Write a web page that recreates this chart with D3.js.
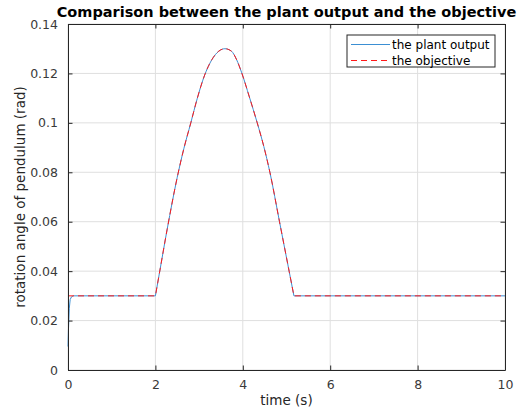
<!DOCTYPE html>
<html>
<head>
<meta charset="utf-8">
<script src="https://cdn.jsdelivr.net/npm/d3@7"></script>
<style>
  body { margin: 0; background: #fff; }
  svg { display: block; font-family: "DejaVu Sans", sans-serif; }
</style>
</head>
<body>
<svg id="chart" width="517" height="417"></svg>
<script>
// objective (red dashed)
const objTime = [0, 2, 2.09, 2.27, 2.5, 2.65, 2.81, 2.96, 3.12, 3.29, 3.45, 3.59, 3.74, 3.86, 3.97, 4.15, 4.33, 4.48, 4.62, 4.84, 5.06, 5.17, 10];
const objValue = [0.03, 0.03, 0.039, 0.057, 0.078, 0.0895, 0.10, 0.110, 0.119, 0.1255, 0.129, 0.130, 0.129, 0.1255, 0.1205, 0.1105, 0.10, 0.0905, 0.08, 0.06, 0.04, 0.03, 0.03];

// plant output (blue solid)
const plantTime = [0, 0.01, 0.03, 0.05, 0.08, 0.12, 2, 2.09, 2.27, 2.5, 2.65, 2.81, 2.96, 3.12, 3.29, 3.45, 3.59, 3.74, 3.86, 3.97, 4.15, 4.33, 4.48, 4.62, 4.84, 5.06, 5.17, 10];
const plantValue = [0.0095, 0.016, 0.025, 0.0285, 0.0296, 0.03, 0.03, 0.039, 0.057, 0.078, 0.0895, 0.10, 0.110, 0.119, 0.1255, 0.129, 0.130, 0.129, 0.1255, 0.1205, 0.1105, 0.10, 0.0905, 0.08, 0.06, 0.04, 0.03, 0.03];

const xTicks = [0, 2, 4, 6, 8, 10];
const yTicks = [0, 0.02, 0.04, 0.06, 0.08, 0.1, 0.12, 0.14];

const svg = d3.select("#chart");
const plotL = 68, plotR = 505, plotT = 24, plotB = 370;
const axisColor = "#262626";
const blue = "#3b8fd3", red = "#ff1a1a";

const x = d3.scaleLinear().domain([0, 10]).range([plotL, plotR]);
const y = d3.scaleLinear().domain([0, 0.14]).range([plotB, plotT]);

// grid
const grid = svg.append("g").attr("stroke", "#dfdfdf").attr("stroke-width", 1);
xTicks.forEach(t => {
    grid.append("line").attr("x1", x(t)).attr("x2", x(t)).attr("y1", plotT).attr("y2", plotB);
});
yTicks.forEach(t => {
    grid.append("line").attr("x1", plotL).attr("x2", plotR).attr("y1", y(t)).attr("y2", y(t));
});

// straight pieces are linear, the hump between t=2 and t=5.17 is smoothed
const linear = d3.line().x(d => x(d[0])).y(d => y(d[1]));
const smooth = d3.line().x(d => x(d[0])).y(d => y(d[1])).curve(d3.curveMonotoneX);
function pathFor(times, values) {
    const pts = times.map((t, i) => [t, values[i]]);
    const a = pts.filter(d => d[0] <= 2);
    const hump = pts.filter(d => d[0] >= 2 && d[0] <= 5.17);
    const b = pts.filter(d => d[0] >= 5.17);
    return linear(a) + smooth(hump).replace(/^M/, "L") + linear(b).replace(/^M/, "L");
}

svg.append("path")
    .attr("d", pathFor(plantTime, plantValue))
    .attr("fill", "none")
    .attr("stroke", blue)
    .attr("stroke-width", 1);
svg.append("path")
    .attr("d", pathFor(objTime, objValue))
    .attr("fill", "none")
    .attr("stroke", red)
    .attr("stroke-width", 1)
    .attr("stroke-dasharray", "6,4");

// axes (ticks inward, box)
const tickLen = 4.5;
const xAxis = d3.axisBottom(x).tickValues(xTicks).tickSizeInner(-tickLen).tickSizeOuter(0).tickPadding(10);
const yAxis = d3.axisLeft(y).tickValues(yTicks).tickSizeInner(-tickLen).tickSizeOuter(0).tickPadding(10)
    .tickFormat(d => d === 0 ? "0" : String(+d.toFixed(2)));

const gx = svg.append("g").attr("transform", `translate(0,${plotB})`).call(xAxis);
const gy = svg.append("g").attr("transform", `translate(${plotL},0)`).call(yAxis);
const gxTop = svg.append("g").attr("transform", `translate(0,${plotT})`)
    .call(d3.axisTop(x).tickValues(xTicks).tickSizeInner(-tickLen).tickSizeOuter(0).tickFormat(""));
const gyRight = svg.append("g").attr("transform", `translate(${plotR},0)`)
    .call(d3.axisRight(y).tickValues(yTicks).tickSizeInner(-tickLen).tickSizeOuter(0).tickFormat(""));

[gx, gy, gxTop, gyRight].forEach(g => {
    g.selectAll("path").attr("stroke", axisColor).attr("stroke-width", 1);
    g.selectAll("line").attr("stroke", axisColor).attr("stroke-width", 1);
    g.selectAll("text").attr("fill", "#3a3a3a").style("font-size", "12.5px").style("font-family", "DejaVu Sans");
});
gx.selectAll("text").attr("dy", "0.71em");

// labels
svg.append("text")
    .attr("x", (plotL + plotR) / 2).attr("y", 405)
    .attr("text-anchor", "middle")
    .attr("fill", axisColor)
    .style("font-size", "13.5px")
    .text("time (s)");

svg.append("text")
    .attr("transform", `translate(25,${(plotT + plotB) / 2}) rotate(-90)`)
    .attr("text-anchor", "middle")
    .attr("fill", axisColor)
    .style("font-size", "13.5px")
    .text("rotation angle of pendulum (rad)");

svg.append("text")
    .attr("x", (plotL + plotR) / 2).attr("y", 17)
    .attr("text-anchor", "middle")
    .attr("fill", "#000")
    .style("font-size", "14.5px")
    .style("font-weight", "bold")
    .text("Comparison between the plant output and the objective");

// legend
const legend = svg.append("g");
legend.append("rect")
    .attr("x", 347).attr("y", 35).attr("width", 148).attr("height", 32)
    .attr("fill", "#fff").attr("stroke", axisColor).attr("stroke-width", 1);
const legendItems = [
    { label: "the plant output", color: blue, dash: null },
    { label: "the objective", color: red, dash: "6,4" }
];
legendItems.forEach((item, i) => {
    const ly = 44.5 + i * 16;
    legend.append("line")
        .attr("x1", 351).attr("x2", 390).attr("y1", ly).attr("y2", ly)
        .attr("stroke", item.color).attr("stroke-width", 1)
        .attr("stroke-dasharray", item.dash);
    legend.append("text")
        .attr("x", 392).attr("y", ly).attr("dy", "0.35em")
        .attr("fill", "#000")
        .style("font-size", "12px")
        .text(item.label);
});
</script>
</body>
</html>
